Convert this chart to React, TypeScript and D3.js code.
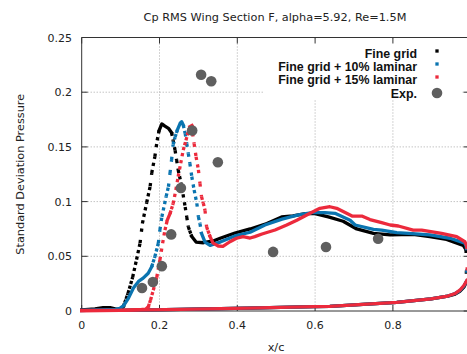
import React from "react";
import * as d3 from "d3";

// Pressure fluctuation (Cp RMS) along the chord: upper surface from the
// leading edge to the trailing edge, then the lower surface back to x/c = 0.
const fineGrid: [number, number][] = [
  [0, 0.001], [0.034, 0.002], [0.055, 0.003], [0.073, 0.003], [0.091, 0.0014],
  [0.101, 0.002], [0.107, 0.004], [0.119, 0.016], [0.131, 0.031], [0.141, 0.047],
  [0.15, 0.062], [0.156, 0.08], [0.167, 0.099], [0.176, 0.114], [0.18, 0.126],
  [0.188, 0.141], [0.194, 0.156], [0.199, 0.165], [0.206, 0.171], [0.214, 0.169],
  [0.223, 0.167], [0.231, 0.163], [0.235, 0.156], [0.24, 0.147], [0.244, 0.138],
  [0.248, 0.129], [0.257, 0.114], [0.266, 0.095], [0.27, 0.086], [0.274, 0.077],
  [0.283, 0.068], [0.294, 0.063], [0.313, 0.0624], [0.338, 0.064], [0.356, 0.0665],
  [0.394, 0.0713], [0.433, 0.075], [0.476, 0.08], [0.514, 0.086], [0.543, 0.087],
  [0.575, 0.089], [0.6, 0.089], [0.634, 0.086], [0.672, 0.082], [0.707, 0.075],
  [0.75, 0.071], [0.793, 0.0695], [0.852, 0.07], [0.895, 0.068], [0.938, 0.0655],
  [0.981, 0.06], [0.988, 0.056], [0.989, 0.037], [0.988, 0.026], [0.983, 0.022],
  [0.972, 0.018], [0.96, 0.0155], [0.941, 0.0135], [0.898, 0.011], [0.81, 0.0078],
  [0.723, 0.006], [0.638, 0.0043], [0.597, 0.004], [0.427, 0.0026], [0.255, 0.0014],
  [0.098, 0.0006], [0, 0.0005],
];

const laminar10: [number, number][] = [
  [0, 0.0005], [0.047, 0.001], [0.086, 0.0014], [0.098, 0.0025], [0.107, 0.0046],
  [0.12, 0.0116], [0.133, 0.021], [0.146, 0.027], [0.158, 0.03], [0.171, 0.0345],
  [0.18, 0.0405], [0.188, 0.0496], [0.197, 0.062], [0.201, 0.074], [0.206, 0.086],
  [0.217, 0.1045], [0.223, 0.1136], [0.227, 0.126], [0.231, 0.138], [0.235, 0.152],
  [0.24, 0.159], [0.246, 0.1655], [0.253, 0.1716], [0.257, 0.173], [0.261, 0.17],
  [0.266, 0.1624], [0.27, 0.153], [0.274, 0.144], [0.278, 0.135], [0.283, 0.1228],
  [0.289, 0.1106], [0.296, 0.0984], [0.3, 0.086], [0.304, 0.08], [0.308, 0.071],
  [0.317, 0.063], [0.33, 0.06], [0.347, 0.062], [0.356, 0.063], [0.394, 0.0686],
  [0.433, 0.072], [0.471, 0.0786], [0.515, 0.084], [0.557, 0.0878], [0.592, 0.09],
  [0.625, 0.0899], [0.651, 0.0893], [0.69, 0.083], [0.703, 0.0786], [0.75, 0.0747],
  [0.771, 0.074], [0.81, 0.0716], [0.84, 0.071], [0.895, 0.0695], [0.947, 0.0665],
  [0.985, 0.062], [0.989, 0.0585], [0.99, 0.038], [0.989, 0.027], [0.983, 0.023],
  [0.972, 0.0185], [0.96, 0.016], [0.941, 0.0137], [0.898, 0.011], [0.81, 0.0078],
  [0.723, 0.006], [0.638, 0.0043], [0.597, 0.004], [0.427, 0.0026], [0.255, 0.0014],
  [0.098, 0.0006], [0, 0.0005],
];

const laminar15: [number, number][] = [
  [0, 0.0002], [0.098, 0.0005], [0.154, 0.0014], [0.165, 0.0018], [0.171, 0.0037],
  [0.177, 0.01], [0.184, 0.019], [0.193, 0.031], [0.201, 0.0466], [0.208, 0.062],
  [0.214, 0.074], [0.22, 0.083], [0.227, 0.089], [0.235, 0.098], [0.242, 0.1106],
  [0.248, 0.1228], [0.2545, 0.135], [0.261, 0.147], [0.268, 0.156], [0.274, 0.164],
  [0.278, 0.1685], [0.2835, 0.1696], [0.285, 0.1624], [0.289, 0.153], [0.294, 0.141],
  [0.3, 0.129], [0.304, 0.1167], [0.308, 0.1045], [0.3125, 0.0987], [0.317, 0.092],
  [0.321, 0.077], [0.33, 0.068], [0.338, 0.062], [0.351, 0.0594], [0.363, 0.059],
  [0.381, 0.0633], [0.398, 0.0665], [0.415, 0.068], [0.433, 0.0667], [0.445, 0.068],
  [0.4635, 0.0704], [0.497, 0.074], [0.527, 0.0786], [0.553, 0.083], [0.587, 0.0893],
  [0.6125, 0.0939], [0.638, 0.0953], [0.6555, 0.0939], [0.681, 0.0893], [0.695, 0.0868],
  [0.72, 0.0868], [0.741, 0.0836], [0.771, 0.0807], [0.793, 0.0786], [0.814, 0.0777],
  [0.852, 0.074], [0.874, 0.074], [0.925, 0.071], [0.964, 0.068], [0.985, 0.0633],
  [0.99, 0.0594], [0.991, 0.04], [0.99, 0.028], [0.983, 0.0235], [0.972, 0.019],
  [0.96, 0.016], [0.941, 0.0137], [0.898, 0.011], [0.81, 0.0078], [0.723, 0.006],
  [0.638, 0.0043], [0.597, 0.004], [0.427, 0.0026], [0.255, 0.0014], [0.098, 0.0006],
  [0, 0.0005],
];

const expX = [0.155, 0.183, 0.206, 0.23, 0.255, 0.284, 0.307, 0.333, 0.35, 0.492, 0.628, 0.762];
const expY = [0.021, 0.0265, 0.041, 0.07, 0.1124, 0.165, 0.216, 0.21, 0.136, 0.054, 0.0585, 0.066];

const xTicks = [0, 0.2, 0.4, 0.6, 0.8];
const yTicks = [0, 0.05, 0.1, 0.15, 0.2, 0.25];
const xTickLabels = ["0", "0.2", "0.4", "0.6", "0.8"];
const yTickLabels = ["0", "0.05", "0.1", "0.15", "0.2", "0.25"];

const seriesNames = ["Fine grid", "Fine grid + 10% laminar", "Fine grid + 15% laminar"];
const seriesColors = ["#000000", "#0a74b0", "#ec2a3c"];
const expName = "Exp.";
const expColor = "#5f5f5f";

const W = 467;
const H = 354;
const plotLeft = 81.7;
const plotRight = 470.7;
const plotTop = 37.5;
const plotBottom = 311;

const x = d3.scaleLinear().domain([0, 1]).range([plotLeft, plotRight]);
const y = d3.scaleLinear().domain([0, 0.25]).range([plotBottom, plotTop]);

const MARK = 3.3; // square marker size in px
const MESH_DX = 1.35; // horizontal spacing of surface nodes in px

type Piece = { d: string; dash?: string };

// Split a point series into solid runs (nodes overlap) and steep runs
// where individual square markers separate.
function pieces(data: [number, number][]): Piece[] {
  const out: Piece[] = [];
  let run: [number, number][] = [];
  const line = d3.line<[number, number]>().x((p) => x(p[0])).y((p) => y(p[1]));
  const flush = () => {
    if (run.length > 1) out.push({ d: line(run) as string });
    run = [];
  };
  for (let i = 0; i < data.length - 1; i++) {
    const a = data[i];
    const b = data[i + 1];
    const dx = Math.abs(x(b[0]) - x(a[0]));
    const dy = Math.abs(y(b[1]) - y(a[1]));
    const slope = dy / Math.max(dx, 0.01);
    const step = MESH_DX * Math.sqrt(1 + slope * slope);
    const gap = step - MARK;
    if (gap > 0.7 && dy > 4) {
      if (run.length) run.push(a);
      flush();
      out.push({ d: line([a, b]) as string, dash: `${MARK} ${gap.toFixed(2)}` });
    } else {
      if (!run.length) run.push(a);
      run.push(b);
    }
  }
  flush();
  return out;
}

export default function App() {
  const series = [fineGrid, laminar10, laminar15];
  const legendRight = 417;
  const legendMarkX = 437;
  const legendRows = [53, 66, 79, 93];

  return (
    <svg
      width={W}
      height={H}
      style={{ position: "absolute", left: 0, top: 0, background: "#fff" }}
      fontFamily="'DejaVu Sans', sans-serif"
    >
      {/* grid */}
      <g stroke="#a8a8a8" strokeWidth={1} strokeDasharray="1 2">
        {xTicks.slice(1).map((t) => (
          <line key={"gx" + t} x1={x(t)} x2={x(t)} y1={plotTop} y2={plotBottom} />
        ))}
        {yTicks.slice(1, -1).map((t) => (
          <line key={"gy" + t} x1={plotLeft} x2={plotRight} y1={y(t)} y2={y(t)} />
        ))}
      </g>

      {/* key background */}
      <rect x={264} y={40} width={198} height={60} fill="#fff" />

      {/* frame and ticks */}
      <g stroke="#333" strokeWidth={1}>
        <line x1={plotLeft} x2={plotLeft} y1={plotTop} y2={plotBottom} />
        <line x1={plotLeft} x2={plotRight} y1={plotTop} y2={plotTop} />
        <line x1={plotLeft} x2={plotRight} y1={plotBottom} y2={plotBottom} />
        <line x1={plotRight} x2={plotRight} y1={plotTop} y2={plotBottom} />
        {xTicks.map((t) => (
          <g key={"tx" + t}>
            <line x1={x(t)} x2={x(t)} y1={plotBottom} y2={plotBottom - 6} />
            <line x1={x(t)} x2={x(t)} y1={plotTop} y2={plotTop + 6} />
          </g>
        ))}
        {yTicks.map((t) => (
          <g key={"ty" + t}>
            <line x1={plotLeft} x2={plotLeft + 6} y1={y(t)} y2={y(t)} />
            <line x1={plotRight} x2={plotRight - 7} y1={y(t)} y2={y(t)} />
          </g>
        ))}
      </g>

      {/* tick labels */}
      <g fontSize={11} fill="#222">
        {xTicks.map((t, i) => (
          <text key={"lx" + t} x={x(t)} y={329} textAnchor="middle">
            {xTickLabels[i]}
          </text>
        ))}
        {yTicks.map((t, i) => (
          <text key={"ly" + t} x={72} y={y(t) + 4} textAnchor="end">
            {yTickLabels[i]}
          </text>
        ))}
      </g>

      {/* titles */}
      <text x={275} y={21} textAnchor="middle" fontSize={11.3} fill="#222">
        Cp RMS Wing Section F, alpha=5.92, Re=1.5M
      </text>
      <text x={276} y={351} textAnchor="middle" fontSize={11.3} fill="#222">
        x/c
      </text>
      <text
        transform={`translate(24, ${(plotTop + plotBottom) / 2}) rotate(-90)`}
        textAnchor="middle"
        fontSize={11.3}
        fill="#222"
      >
        Standard Deviation Pressure
      </text>

      {/* simulation series */}
      {series.map((s, si) => (
        <g key={"s" + si} fill="none" stroke={seriesColors[si]} strokeWidth={MARK}>
          {pieces(s).map((p, pi) =>
            p.dash ? (
              <path key={pi} d={p.d} strokeDasharray={p.dash} strokeLinecap="butt" />
            ) : (
              <path key={pi} d={p.d} strokeLinecap="square" strokeLinejoin="round" />
            )
          )}
        </g>
      ))}

      {/* experiment */}
      <g fill={expColor}>
        {expX.map((v, i) => (
          <circle key={"e" + i} cx={x(v)} cy={y(expY[i])} r={5.3} />
        ))}
      </g>

      {/* key */}
      <g fontFamily="'Liberation Sans', Arial, sans-serif" fontWeight="bold" fontSize={12.4} fill="#111">
        {[...seriesNames, expName].map((n, i) => (
          <text key={"k" + i} x={legendRight} y={legendRows[i] + 4.5} textAnchor="end">
            {n}
          </text>
        ))}
        {seriesColors.map((c, i) => (
          <rect
            key={"km" + i}
            x={legendMarkX - MARK / 2}
            y={legendRows[i] - 2 - MARK / 2}
            width={MARK}
            height={MARK}
            fill={c}
          />
        ))}
        <circle cx={legendMarkX} cy={legendRows[3]} r={5.3} fill={expColor} />
      </g>
    </svg>
  );
}
